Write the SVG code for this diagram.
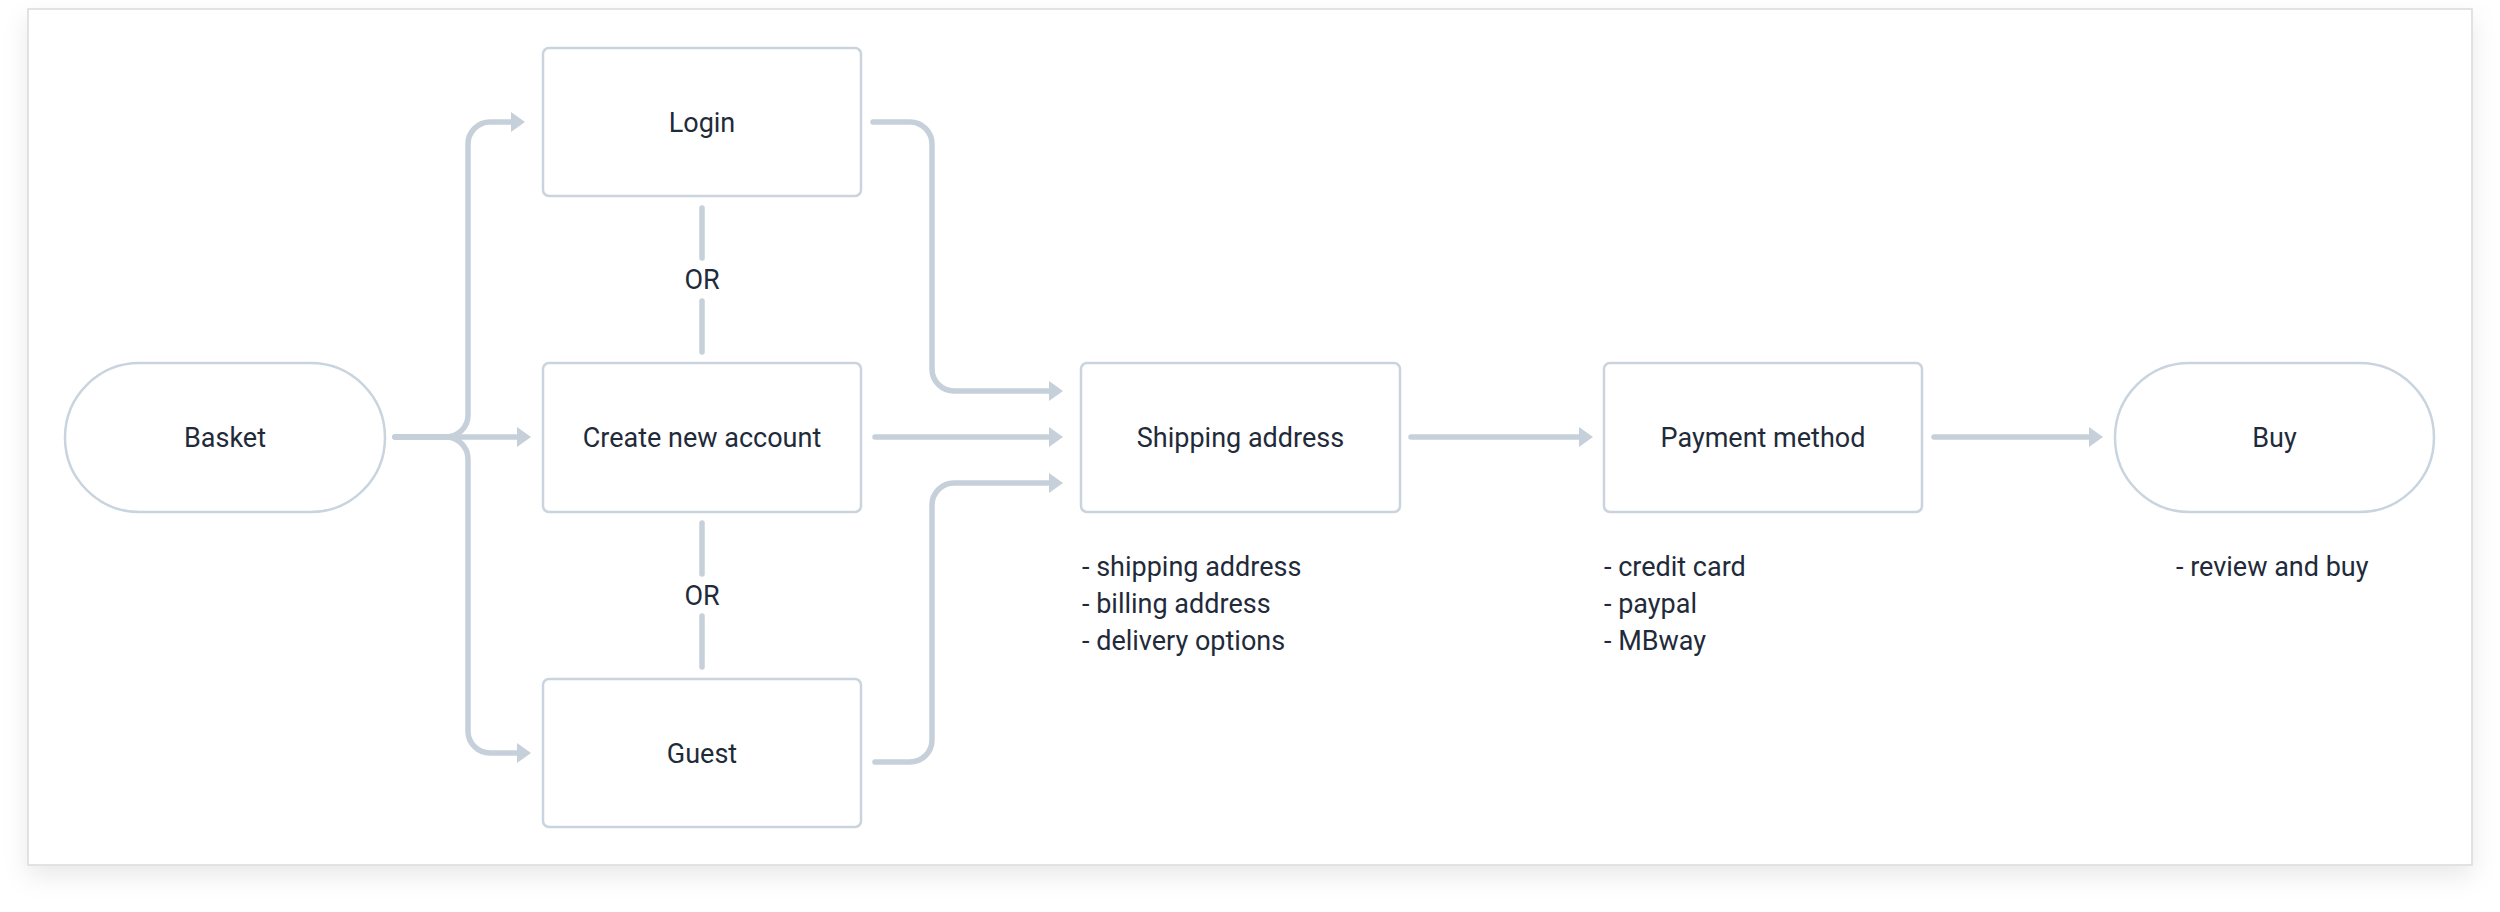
<svg xmlns="http://www.w3.org/2000/svg" width="2500" height="912" viewBox="0 0 2500 912">
  <defs>
    <filter id="shadow" x="-5%" y="-10%" width="110%" height="125%">
      <feDropShadow dx="0" dy="10" stdDeviation="12" flood-color="#000" flood-opacity="0.09"/>
    </filter>
    <marker id="arrow" viewBox="0 0 14 20" refX="1" refY="10" markerWidth="14" markerHeight="20" markerUnits="userSpaceOnUse" orient="auto">
      <path d="M0,0 L14,10 L0,20 Z" fill="#c5d0da"/>
    </marker>
    <style>
      .node { fill: #ffffff; stroke: #c9d4de; stroke-width: 2.5; }
      .conn { fill: none; stroke: #c5d0da; stroke-width: 5.5; stroke-linecap: round; stroke-linejoin: round; }
      .arrow { marker-end: url(#arrow); }
      .label { font-family: Roboto, "Liberation Sans", sans-serif; font-size: 27px; font-weight: 400; fill: #1f2b3a; text-anchor: middle; }
      .note { font-family: Roboto, "Liberation Sans", sans-serif; font-size: 27px; font-weight: 400; fill: #1f2b3a; }
    </style>
  </defs>
  <rect x="0" y="0" width="2500" height="912" fill="#ffffff"/>
  <rect x="28" y="9" width="2444" height="856" fill="#ffffff" stroke="#dadada" stroke-width="1.5" filter="url(#shadow)"/>

  <g id="connectors">
    <path class="conn arrow" d="M395,437 H446 A22,22 0 0 0 468,415 V144 A22,22 0 0 1 490,122 H512"/>
    <path class="conn arrow" d="M395,437 H518"/>
    <path class="conn arrow" d="M395,437 H446 A22,22 0 0 1 468,459 V731 A22,22 0 0 0 490,753 H518"/>
    <path class="conn arrow" d="M873,122 H910 A22,22 0 0 1 932,144 V369 A22,22 0 0 0 954,391 H1050"/>
    <path class="conn arrow" d="M875,437 H1050"/>
    <path class="conn arrow" d="M875,762 H910 A22,22 0 0 0 932,740 V505 A22,22 0 0 1 954,483 H1050"/>
    <path class="conn arrow" d="M1411,437 H1580"/>
    <path class="conn arrow" d="M1934,437 H2090"/>
    <path class="conn" d="M702,208 V258"/>
    <path class="conn" d="M702,301 V352"/>
    <path class="conn" d="M702,523 V574"/>
    <path class="conn" d="M702,616 V667"/>
    <text class="label" x="702" y="289">OR</text>
    <text class="label" x="702" y="605">OR</text>
  </g>

  <g id="basket">
    <rect class="node" x="65" y="363" width="320" height="149" rx="74.5"/>
    <text class="label" x="225" y="447">Basket</text>
  </g>
  <g id="login">
    <rect class="node" x="543" y="48" width="318" height="148" rx="6"/>
    <text class="label" x="702" y="132">Login</text>
  </g>
  <g id="create-account">
    <rect class="node" x="543" y="363" width="318" height="149" rx="6"/>
    <text class="label" x="702" y="447">Create new account</text>
  </g>
  <g id="guest">
    <rect class="node" x="543" y="679" width="318" height="148" rx="6"/>
    <text class="label" x="702" y="763">Guest</text>
  </g>
  <g id="shipping">
    <rect class="node" x="1081" y="363" width="319" height="149" rx="6"/>
    <text class="label" x="1240.5" y="447">Shipping address</text>
    <text class="note" x="1082" y="576">- shipping address</text>
    <text class="note" x="1082" y="613">- billing address</text>
    <text class="note" x="1082" y="650">- delivery options</text>
  </g>
  <g id="payment">
    <rect class="node" x="1604" y="363" width="318" height="149" rx="6"/>
    <text class="label" x="1763" y="447">Payment method</text>
    <text class="note" x="1604" y="576">- credit card</text>
    <text class="note" x="1604" y="613">- paypal</text>
    <text class="note" x="1604" y="650">- MBway</text>
  </g>
  <g id="buy">
    <rect class="node" x="2115" y="363" width="319" height="149" rx="74.5"/>
    <text class="label" x="2274.5" y="447">Buy</text>
    <text class="note" x="2176" y="576">- review and buy</text>
  </g>
</svg>
